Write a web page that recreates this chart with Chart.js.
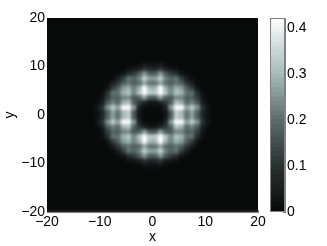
<!DOCTYPE html>
<html>
<head>
<meta charset="utf-8">
<script src="https://cdn.jsdelivr.net/npm/chart.js@4"></script>
<style>
  html, body { margin: 0; padding: 0; background: #fff; }
  #wrap { position: relative; width: 327px; height: 246px; }
  canvas { position: absolute; left: 0; top: 0; }
</style>
</head>
<body>
<div id="wrap">
  <canvas id="density" width="327" height="246"></canvas>
  <canvas id="colorbar" width="327" height="246"></canvas>
</div>
<script>
// cell centres of the bright part of the map, everything outside is ~0
const xCenters = [-11.5, -10.5, -9.5, -8.5, -7.5, -6.5, -5.5, -4.5, -3.5, -2.5, -1.5, -0.5, 0.5, 1.5, 2.5, 3.5, 4.5, 5.5, 6.5, 7.5, 8.5, 9.5, 10.5, 11.5];
const yCenters = [11.5, 10.5, 9.5, 8.5, 7.5, 6.5, 5.5, 4.5, 3.5, 2.5, 1.5, 0.5, -0.5, -1.5, -2.5, -3.5, -4.5, -5.5, -6.5, -7.5, -8.5, -9.5, -10.5, -11.5];

// density, one row per yCenters entry
const densityRows = [
  [0, 0, 0, 0, 0, 0, 0, 0, 0, 0, 0, 0, 0, 0, 0, 0, 0, 0, 0, 0, 0, 0, 0, 0],
  [0, 0, 0, 0, 0, 0, 0, 0, 0, .01, .03, .02, .02, .03, .01, 0, 0, 0, 0, 0, 0, 0, 0, 0],
  [0, 0, 0, 0, 0, 0, 0, .02, .03, .05, .10, .07, .07, .10, .05, .03, .02, 0, 0, 0, 0, 0, 0, 0],
  [0, 0, 0, 0, 0, .01, .03, .09, .12, .17, .25, .18, .18, .25, .17, .12, .09, .03, .01, 0, 0, 0, 0, 0],
  [0, 0, 0, 0, .01, .05, .12, .21, .19, .23, .34, .27, .27, .34, .23, .19, .21, .12, .05, .01, 0, 0, 0, 0],
  [0, 0, 0, .01, .05, .11, .18, .21, .18, .20, .27, .21, .21, .27, .20, .18, .21, .18, .11, .05, .01, 0, 0, 0],
  [0, 0, 0, .03, .12, .18, .26, .29, .23, .29, .42, .30, .30, .42, .29, .23, .29, .26, .18, .12, .03, 0, 0, 0],
  [0, 0, .02, .09, .21, .21, .29, .32, .24, .32, .42, .34, .34, .42, .32, .24, .32, .29, .21, .21, .09, .02, 0, 0],
  [0, 0, .03, .12, .19, .18, .23, .24, .17, .18, .26, .17, .17, .26, .18, .17, .24, .23, .18, .19, .12, .03, 0, 0],
  [0, .01, .05, .17, .23, .20, .29, .32, .18, .11, .06, .03, .03, .06, .11, .18, .32, .29, .20, .23, .17, .05, .01, 0],
  [0, .03, .10, .25, .34, .27, .42, .42, .26, .06, .01, .01, .01, .01, .06, .26, .42, .42, .27, .34, .25, .10, .03, 0],
  [0, .02, .07, .18, .27, .21, .30, .34, .17, .03, 0, 0, 0, 0, .03, .17, .34, .30, .21, .27, .18, .07, .02, 0],
  [0, .02, .07, .18, .27, .21, .30, .34, .17, .03, 0, 0, 0, 0, .03, .17, .34, .30, .21, .27, .18, .07, .02, 0],
  [0, .03, .10, .25, .34, .27, .42, .42, .26, .06, .01, .01, .01, .01, .06, .26, .42, .42, .27, .34, .25, .10, .03, 0],
  [0, .01, .05, .17, .23, .20, .29, .32, .18, .11, .06, .03, .03, .06, .11, .18, .32, .29, .20, .23, .17, .05, .01, 0],
  [0, 0, .03, .12, .19, .18, .23, .24, .17, .18, .26, .17, .17, .26, .18, .17, .24, .23, .18, .19, .12, .03, 0, 0],
  [0, 0, .02, .09, .21, .21, .29, .32, .24, .32, .42, .34, .34, .42, .32, .24, .32, .29, .21, .21, .09, .02, 0, 0],
  [0, 0, 0, .03, .12, .18, .26, .29, .23, .29, .42, .30, .30, .42, .29, .23, .29, .26, .18, .12, .03, 0, 0, 0],
  [0, 0, 0, .01, .05, .11, .18, .21, .18, .20, .27, .21, .21, .27, .20, .18, .21, .18, .11, .05, .01, 0, 0, 0],
  [0, 0, 0, 0, .01, .05, .12, .21, .19, .23, .34, .27, .27, .34, .23, .19, .21, .12, .05, .01, 0, 0, 0, 0],
  [0, 0, 0, 0, 0, .01, .03, .09, .12, .17, .25, .18, .18, .25, .17, .12, .09, .03, .01, 0, 0, 0, 0, 0],
  [0, 0, 0, 0, 0, 0, 0, .02, .03, .05, .10, .07, .07, .10, .05, .03, .02, 0, 0, 0, 0, 0, 0, 0],
  [0, 0, 0, 0, 0, 0, 0, 0, 0, .01, .03, .02, .02, .03, .01, 0, 0, 0, 0, 0, 0, 0, 0, 0],
  [0, 0, 0, 0, 0, 0, 0, 0, 0, 0, 0, 0, 0, 0, 0, 0, 0, 0, 0, 0, 0, 0, 0, 0],
];

const axisTicks = [-20, -10, 0, 10, 20];
const barTicks = [0, 0.1, 0.2, 0.3, 0.4];
const barMax = 0.4217;

// colour stops sampled from the colorbar
const stopValues = [0, 0.1, 0.2, 0.3, 0.36, 0.4217];
const stopColors = [
  [8, 10, 10],
  [42, 50, 50],
  [92, 108, 108],
  [168, 188, 188],
  [208, 220, 220],
  [255, 255, 255],
];

// one strip per level of the colorbar
const barLevels = [0, 0.01, 0.02, 0.03, 0.04, 0.05, 0.06, 0.07, 0.08, 0.09, 0.1, 0.11, 0.12, 0.13, 0.14, 0.15, 0.16, 0.17, 0.18, 0.19, 0.2, 0.21, 0.22, 0.23, 0.24, 0.25, 0.26, 0.27, 0.28, 0.29, 0.3, 0.31, 0.32, 0.33, 0.34, 0.35, 0.36, 0.37, 0.38, 0.39, 0.4, 0.41, 0.42];

const FONT = { family: "'Liberation Sans', Arial, sans-serif", size: 14 };
const TEXT = "#000";
const FRAME = "#808080";

Chart.defaults.animation = false;
Chart.defaults.responsive = false;
Chart.defaults.font = FONT;
Chart.defaults.color = TEXT;

function colorFor(v) {
  let i = 0;
  while (i < stopValues.length - 2 && v > stopValues[i + 1]) i++;
  let t = (v - stopValues[i]) / (stopValues[i + 1] - stopValues[i]);
  t = Math.max(0, Math.min(1, t));
  let c = stopColors[i].map((n, k) => Math.round(n + (stopColors[i + 1][k] - n) * t));
  return "rgb(" + c.join(",") + ")";
}

function fmtMinus(v) {
  return String(v).replace("-", "\u2212");
}

let cells = [];
yCenters.forEach((y, r) => {
  xCenters.forEach((x, c) => {
    cells.push({ x: x, y: y, v: densityRows[r][c] });
  });
});

// paints the value-0 colour behind the cells
const areaBackground = {
  id: "areaBackground",
  beforeDatasetsDraw(chart) {
    let a = chart.chartArea;
    chart.ctx.save();
    chart.ctx.fillStyle = colorFor(0);
    chart.ctx.fillRect(a.left, a.top, a.width, a.height);
    chart.ctx.restore();
  },
};

// the reference map is shaded smoothly, so soften the drawn cells
const smoothCells = {
  id: "smoothCells",
  afterDatasetsDraw(chart) {
    let a = chart.chartArea;
    let ctx = chart.ctx;
    let copy = document.createElement("canvas");
    copy.width = chart.canvas.width;
    copy.height = chart.canvas.height;
    copy.getContext("2d").drawImage(chart.canvas, 0, 0);
    ctx.save();
    ctx.beginPath();
    ctx.rect(a.left, a.top, a.width, a.height);
    ctx.clip();
    ctx.filter = "blur(1.5px)";
    ctx.drawImage(copy, 0, 0);
    ctx.restore();
  },
};

new Chart(document.getElementById("density"), {
  type: "scatter",
  data: {
    datasets: [
      {
        data: cells,
        pointStyle: "rect",
        pointRadius: 3.8,
        pointHoverRadius: 3.8,
        borderWidth: 0,
        pointBorderWidth: 0,
        backgroundColor: (c) => colorFor(c.raw ? c.raw.v : 0),
      },
    ],
  },
  options: {
    layout: { padding: { left: 0, top: 18, right: 69, bottom: 0 } },
    plugins: { legend: { display: false }, tooltip: { enabled: false } },
    scales: {
      x: {
        type: "linear",
        min: -20,
        max: 20,
        afterFit(s) { s.height = 34; },
        afterBuildTicks(s) { s.ticks = axisTicks.map((v) => ({ value: v })); },
        ticks: { maxRotation: 0, padding: 4, callback: fmtMinus },
        grid: { drawOnChartArea: false, tickLength: -2, color: FRAME },
        border: { color: FRAME },
        title: { display: true, text: "x", padding: { top: 0, bottom: 0 } },
      },
      y: {
        type: "linear",
        min: -20,
        max: 20,
        afterFit(s) { s.width = 47; },
        afterBuildTicks(s) { s.ticks = axisTicks.map((v) => ({ value: v })); },
        ticks: { padding: 4, callback: fmtMinus },
        grid: { drawOnChartArea: false, tickLength: -2, color: FRAME },
        border: { color: FRAME },
        title: { display: true, text: "y", padding: { top: 2, bottom: 0 } },
      },
    },
  },
  plugins: [areaBackground, smoothCells],
});

new Chart(document.getElementById("colorbar"), {
  type: "bar",
  data: {
    labels: ["c"],
    datasets: barLevels.map((v) => ({
      data: [[v, Math.min(v + 0.0105, barMax)]],
      backgroundColor: colorFor(v + 0.005),
      barPercentage: 1,
      categoryPercentage: 1,
      grouped: false,
    })),
  },
  options: {
    layout: { padding: { left: 270, top: 18, right: 0, bottom: 34 } },
    plugins: { legend: { display: false }, tooltip: { enabled: false } },
    scales: {
      x: { display: false },
      y: {
        position: "right",
        min: 0,
        max: barMax,
        afterFit(s) { s.width = 42; },
        afterBuildTicks(s) { s.ticks = barTicks.map((v) => ({ value: v })); },
        ticks: { padding: 4 },
        grid: { drawOnChartArea: false, tickLength: -2, color: FRAME },
        border: { color: FRAME },
      },
    },
  },
  plugins: [
    {
      id: "barFrame",
      afterDraw(chart) {
        let a = chart.chartArea;
        let ctx = chart.ctx;
        ctx.save();
        ctx.strokeStyle = FRAME;
        ctx.lineWidth = 1;
        ctx.strokeRect(a.left + 0.5, a.top + 0.5, a.width - 1, a.height - 1);
        ctx.restore();
      },
    },
  ],
});
</script>
</body>
</html>
